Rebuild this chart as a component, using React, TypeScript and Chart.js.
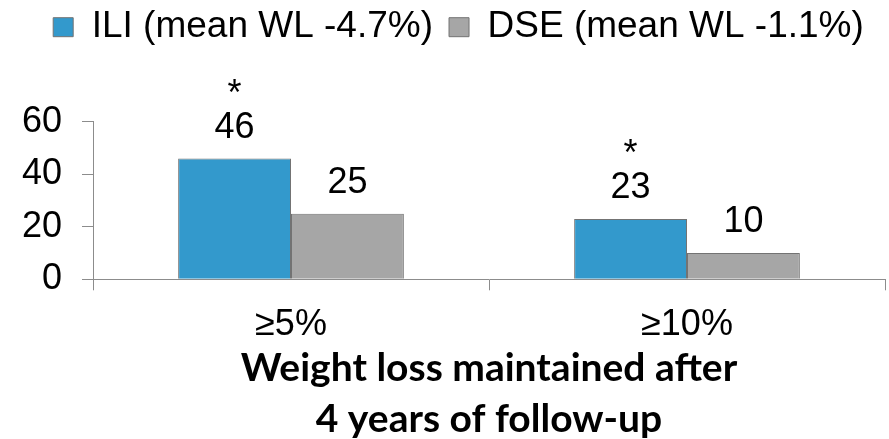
import React, { useEffect, useRef } from "react";
import { Chart, registerables } from "chart.js";

Chart.register(...registerables);

const categories = ["≥5%", "≥10%"];
const iliLabel = "ILI (mean WL -4.7%)";
const dseLabel = "DSE (mean WL -1.1%)";
const iliValues = [46, 23];
const dseValues = [25, 10];
const iliMarks = ["*", "*"];
const dseMarks = ["", ""];
const yMin = 0;
const yMax = 60;
const yStep = 20;
const xTitle = ["Weight loss maintained after", "4 years of follow-up"];

const ILI_COLOR = "#3399CC";
const DSE_COLOR = "#A6A6A6";
const EDGE = "#737373";
const AXIS = "#8C8C8C";
const FONT = "'Liberation Sans', Arial, sans-serif";

const legendSpacer = {
  id: "legendSpacer",
  beforeInit(chart: any) {
    const legend = chart.legend;
    if (!legend) return;
    const orig = legend.fit;
    legend.fit = function () {
      orig.call(this);
      this.height = 129;
    };
  },
  afterLayout(chart: any) {
    if (chart.legend) chart.legend.left = 32;
  },
};

const barLabels = {
  id: "barLabels",
  afterDatasetsDraw(chart: any) {
    const ctx = chart.ctx;
    const marks = [iliMarks, dseMarks];
    ctx.save();
    ctx.fillStyle = "#000";
    ctx.textAlign = "center";
    ctx.textBaseline = "alphabetic";
    ctx.font = `36px ${FONT}`;
    chart.data.datasets.forEach((ds: any, di: number) => {
      const meta = chart.getDatasetMeta(di);
      meta.data.forEach((el: any, i: number) => {
        const base = el.y - 20.6;
        ctx.fillText(String(ds.data[i]), el.x, base);
        const m = marks[di][i];
        if (m) ctx.fillText(m, el.x, base - 33);
      });
    });
    ctx.restore();
  },
};

export default function App() {
  const ref = useRef<HTMLCanvasElement>(null);
  useEffect(() => {
    if (!ref.current) return;
    const chart = new Chart(ref.current, {
      type: "bar",
      data: {
        labels: categories,
        datasets: [
          {
            label: iliLabel,
            data: iliValues,
            backgroundColor: ILI_COLOR,
            borderColor: EDGE,
            borderWidth: 1,
            categoryPercentage: 0.57,
            barPercentage: 1,
          },
          {
            label: dseLabel,
            data: dseValues,
            backgroundColor: DSE_COLOR,
            borderColor: EDGE,
            borderWidth: 1,
            categoryPercentage: 0.57,
            barPercentage: 1,
          },
        ],
      },
      options: {
        responsive: false,
        animation: false,
        layout: { padding: { left: 0, top: -7.3, right: 4, bottom: 0 } },
        plugins: {
          legend: {
            display: true,
            position: "top",
            align: "center",
            labels: {
              boxWidth: 20,
              boxHeight: 19,
              padding: 16,
              color: "#000",
              font: { family: FONT, size: 37 },
            },
          },
          tooltip: { enabled: false },
        },
        scales: {
          x: {
            grid: {
              offset: true,
              drawOnChartArea: false,
              drawTicks: true,
              tickLength: 11,
              color: AXIS,
            },
            border: { color: AXIS, width: 1 },
            ticks: {
              color: "#000",
              padding: 13,
              font: { family: FONT, size: 36 },
              maxRotation: 0,
            },
            title: {
              display: true,
              text: xTitle,
              color: "#000",
              font: { family: "Lato, sans-serif", size: 39, weight: "bold", lineHeight: "51px" },
              padding: { top: 0, bottom: -5.5 },
            },
            afterFit(scale: any) {
              scale.height = 159.7;
            },
          },
          y: {
            min: yMin,
            max: yMax,
            ticks: {
              stepSize: yStep,
              color: "#000",
              padding: 20,
              font: { family: FONT, size: 36 },
            },
            grid: {
              drawOnChartArea: false,
              drawTicks: true,
              tickLength: 11,
              color: AXIS,
            },
            border: { color: AXIS, width: 1 },
            afterFit(scale: any) {
              scale.width = 93;
            },
          },
        },
      },
      plugins: [legendSpacer, barLabels],
    } as any);
    return () => chart.destroy();
  }, []);
  return (
    <div style={{ position: "fixed", left: 0, top: 0, width: 889, height: 439, background: "#fff" }}>
      <canvas ref={ref} width={889} height={439} style={{ display: "block" }} />
    </div>
  );
}
